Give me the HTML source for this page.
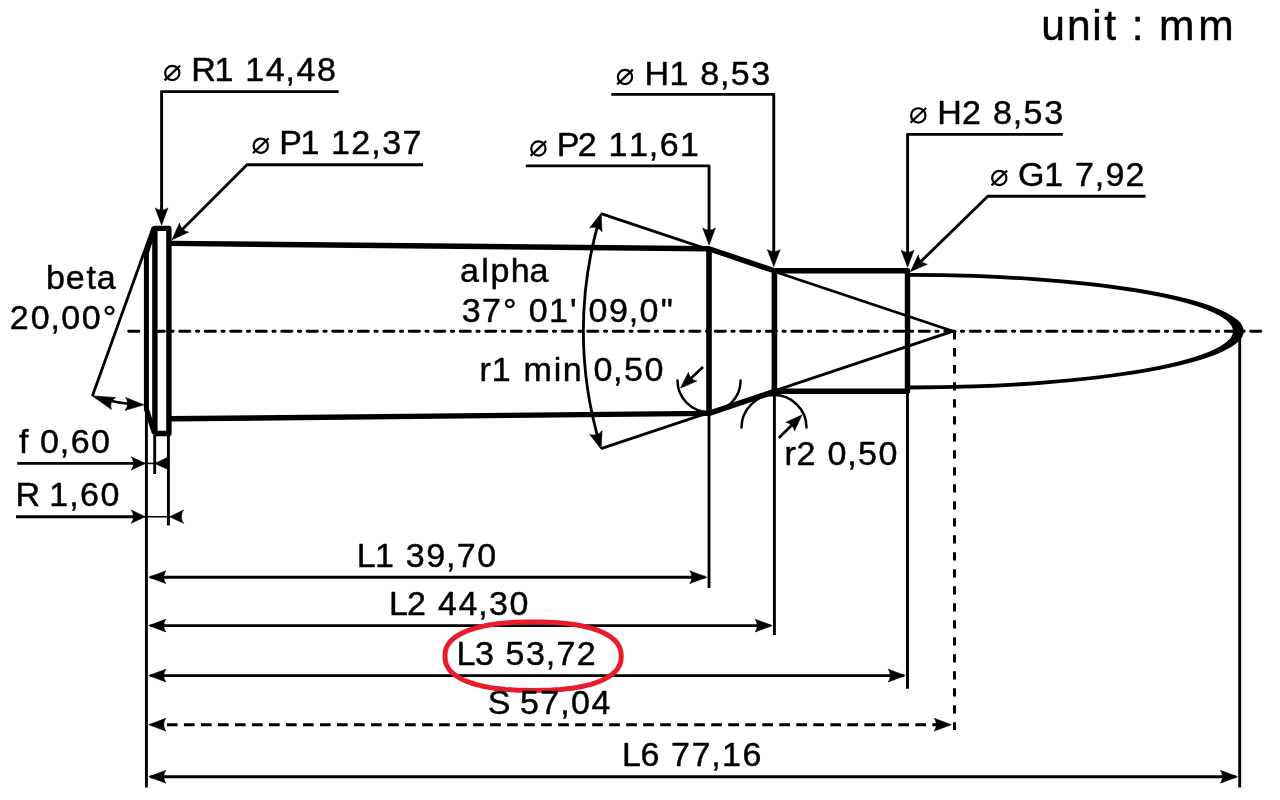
<!DOCTYPE html>
<html lang="en">
<head>
<meta charset="utf-8">
<title>Cartridge dimensions (unit : mm)</title>
<style>
html,body{margin:0;padding:0;background:#fff;}
body{width:1280px;height:800px;overflow:hidden;font-family:"Liberation Sans",sans-serif;}
svg{display:block;will-change:transform;}
</style>
</head>
<body>
<svg width="1280" height="800" viewBox="0 0 1280 800">
<defs><filter id="gray" filterUnits="userSpaceOnUse" x="0" y="0" width="1280" height="800"><feOffset dx="0" dy="0"/></filter></defs>
<rect x="0" y="0" width="1280" height="800" fill="#fff"/>
<g fill="none" stroke="#000" stroke-width="2.9" stroke-linecap="butt">
<line x1="128.7" y1="331.2" x2="1261.5" y2="331.2" stroke-width="2.9" stroke-dasharray="10.2 6.5 2.3 6.5" stroke-linecap="round"/>
<polyline points="601,213.6 953.0,331.2 601,448.7" stroke-linejoin="miter" stroke-width="2.8"/>
<path d="M600.4,216 A397,397 0 0 0 600.4,446.2" stroke-width="2.8"/>
<line x1="153.20" y1="227.00" x2="92.40" y2="396.00" stroke-width="2.8" />
<path d="M97,397.5 A178,178 0 0 0 139,404.5" stroke-width="2.7"/>
<path d="M677.5,380.6 A31.5,31.5 0 0 0 740.6,380.6" stroke-width="2.5" stroke-linecap="round"/>
<path d="M741.5,427.5 A32.5,32.5 0 0 1 806.5,427.5" stroke-width="2.5" stroke-linecap="round"/>
<line x1="703.00" y1="366.90" x2="688.00" y2="381.00" stroke-width="2.7" />
<line x1="778.75" y1="438.00" x2="794.00" y2="423.00" stroke-width="2.7" />
<line x1="146.40" y1="400.00" x2="146.40" y2="787.50" stroke-width="2.9" />
<line x1="154.70" y1="434.00" x2="154.70" y2="474.00" stroke-width="2.9" />
<line x1="168.40" y1="434.00" x2="168.40" y2="525.50" stroke-width="2.9" />
<line x1="709.00" y1="413.00" x2="709.00" y2="588.00" stroke-width="2.9" />
<line x1="774.40" y1="391.00" x2="774.40" y2="635.00" stroke-width="2.9" />
<line x1="907.50" y1="391.00" x2="907.50" y2="688.75" stroke-width="2.9" />
<line x1="1239.70" y1="331.20" x2="1239.70" y2="787.50" stroke-width="2.9" />
<line x1="954.5" y1="331.2" x2="954.5" y2="730" stroke-dasharray="8.3 8.71" stroke-dashoffset="0.1" stroke-width="3"/>
<line x1="150.40" y1="577.20" x2="705.00" y2="577.20" stroke-width="2.9" />
<line x1="150.40" y1="625.60" x2="770.40" y2="625.60" stroke-width="2.9" />
<line x1="150.40" y1="675.60" x2="903.50" y2="675.60" stroke-width="2.9" />
<line x1="150.40" y1="776.75" x2="1235.70" y2="776.75" stroke-width="2.9" />
<line x1="166.9" y1="724.7" x2="948" y2="724.7" stroke-dasharray="10.7 6.31" stroke-dashoffset="0" stroke-width="3"/>
<line x1="17.20" y1="463.40" x2="140.00" y2="463.40" stroke-width="2.9" />
<line x1="140.00" y1="463.40" x2="170.00" y2="463.40" stroke-width="1.6" />
<line x1="16.00" y1="516.70" x2="140.00" y2="516.70" stroke-width="2.9" />
<line x1="140.00" y1="516.70" x2="181.00" y2="516.70" stroke-width="1.6" />
<polyline points="338.7,91.6 161.6,91.6 161.6,215" stroke-linejoin="round"/>
<polyline points="423,164.7 247,164.7 180,231.7" stroke-linejoin="round"/>
<polyline points="525.8,165.9 709.06,165.9 709.06,235" stroke-linejoin="round"/>
<polyline points="611.3,94.4 773.75,94.4 773.75,256" stroke-linejoin="round"/>
<polyline points="1062.8,134.4 907.6,134.4 907.6,257" stroke-linejoin="round"/>
<polyline points="1145.6,196.25 987.8,196.25 918,264.3" stroke-linejoin="round"/>
</g>
<g fill="none" stroke="#000" stroke-width="5.4" stroke-linejoin="round" stroke-linecap="butt">
<polyline points="154.9,433.5 154.9,228.4 168.9,228.4 168.9,433.5 154.9,433.5" stroke-width="5.4"/>
<polyline points="154.1,228.4 146.4,253 146.4,409 154.5,433.5" stroke-width="5.0"/>
<polyline points="170.9,243.4 709.0,248.7 774.4,270.8 907.5,270.8 907.5,391.3 774.4,391.3 709.0,413.4 170.9,418.8"/>
<line x1="709.0" y1="248.7" x2="709.0" y2="413.4" stroke-width="5.6"/>
<line x1="774.4" y1="270.8" x2="774.4" y2="391.3" stroke-width="5.6"/>
</g>
<path fill="#000" fill-rule="evenodd" d="M910.0,273.0 A333.8,58.2 0 0 1 910.0,389.4 L910.0,385.59999999999997 A323.0,54.4 0 0 0 910.0,276.8 Z"/>
<path d="M0,0 L-17.10,-6.40 C-14.30,-2.56 -14.30,2.56 -17.10,6.40 Z" transform="translate(161.60,225.00) rotate(90.00)" fill="#000" stroke="#000" stroke-width="0.6" stroke-linejoin="round"/>
<path d="M0,0 L-17.10,-6.40 C-14.30,-2.56 -14.30,2.56 -17.10,6.40 Z" transform="translate(172.00,239.70) rotate(135.00)" fill="#000" stroke="#000" stroke-width="0.6" stroke-linejoin="round"/>
<path d="M0,0 L-17.10,-6.40 C-14.30,-2.56 -14.30,2.56 -17.10,6.40 Z" transform="translate(709.06,245.00) rotate(90.00)" fill="#000" stroke="#000" stroke-width="0.6" stroke-linejoin="round"/>
<path d="M0,0 L-17.10,-6.40 C-14.30,-2.56 -14.30,2.56 -17.10,6.40 Z" transform="translate(773.75,266.60) rotate(90.00)" fill="#000" stroke="#000" stroke-width="0.6" stroke-linejoin="round"/>
<path d="M0,0 L-17.10,-6.40 C-14.30,-2.56 -14.30,2.56 -17.10,6.40 Z" transform="translate(907.60,267.30) rotate(90.00)" fill="#000" stroke="#000" stroke-width="0.6" stroke-linejoin="round"/>
<path d="M0,0 L-17.10,-6.40 C-14.30,-2.56 -14.30,2.56 -17.10,6.40 Z" transform="translate(910.50,271.60) rotate(135.70)" fill="#000" stroke="#000" stroke-width="0.6" stroke-linejoin="round"/>
<path d="M0,0 L-17.10,-6.40 C-14.30,-2.56 -14.30,2.56 -17.10,6.40 Z" transform="translate(148.80,577.20) rotate(180.00)" fill="#000" stroke="#000" stroke-width="0.6" stroke-linejoin="round"/>
<path d="M0,0 L-17.10,-6.40 C-14.30,-2.56 -14.30,2.56 -17.10,6.40 Z" transform="translate(706.80,577.20) rotate(0.00)" fill="#000" stroke="#000" stroke-width="0.6" stroke-linejoin="round"/>
<path d="M0,0 L-17.10,-6.40 C-14.30,-2.56 -14.30,2.56 -17.10,6.40 Z" transform="translate(148.80,625.60) rotate(180.00)" fill="#000" stroke="#000" stroke-width="0.6" stroke-linejoin="round"/>
<path d="M0,0 L-17.10,-6.40 C-14.30,-2.56 -14.30,2.56 -17.10,6.40 Z" transform="translate(772.20,625.60) rotate(0.00)" fill="#000" stroke="#000" stroke-width="0.6" stroke-linejoin="round"/>
<path d="M0,0 L-17.10,-6.40 C-14.30,-2.56 -14.30,2.56 -17.10,6.40 Z" transform="translate(148.80,675.60) rotate(180.00)" fill="#000" stroke="#000" stroke-width="0.6" stroke-linejoin="round"/>
<path d="M0,0 L-17.10,-6.40 C-14.30,-2.56 -14.30,2.56 -17.10,6.40 Z" transform="translate(905.30,675.60) rotate(0.00)" fill="#000" stroke="#000" stroke-width="0.6" stroke-linejoin="round"/>
<path d="M0,0 L-17.10,-6.40 C-14.30,-2.56 -14.30,2.56 -17.10,6.40 Z" transform="translate(148.80,776.75) rotate(180.00)" fill="#000" stroke="#000" stroke-width="0.6" stroke-linejoin="round"/>
<path d="M0,0 L-17.10,-6.40 C-14.30,-2.56 -14.30,2.56 -17.10,6.40 Z" transform="translate(1237.50,776.75) rotate(0.00)" fill="#000" stroke="#000" stroke-width="0.6" stroke-linejoin="round"/>
<path d="M0,0 L-17.10,-6.40 C-14.30,-2.56 -14.30,2.56 -17.10,6.40 Z" transform="translate(148.80,724.70) rotate(180.00)" fill="#000" stroke="#000" stroke-width="0.6" stroke-linejoin="round"/>
<path d="M0,0 L-17.10,-6.40 C-14.30,-2.56 -14.30,2.56 -17.10,6.40 Z" transform="translate(951.30,724.70) rotate(0.00)" fill="#000" stroke="#000" stroke-width="0.6" stroke-linejoin="round"/>
<path d="M0,0 L-14.00,-6.65 C-11.00,-2.66 -11.00,2.66 -14.00,6.65 Z" transform="translate(145.20,463.40) rotate(0.00)" fill="#000" stroke="#000" stroke-width="0.6" stroke-linejoin="round"/>
<path d="M0,0 L-14.00,-6.65 C-11.00,-2.66 -11.00,2.66 -14.00,6.65 Z" transform="translate(154.90,463.40) rotate(180.00)" fill="#000" stroke="#000" stroke-width="0.6" stroke-linejoin="round"/>
<path d="M0,0 L-14.00,-6.65 C-11.00,-2.66 -11.00,2.66 -14.00,6.65 Z" transform="translate(145.20,516.70) rotate(0.00)" fill="#000" stroke="#000" stroke-width="0.6" stroke-linejoin="round"/>
<path d="M0,0 L-14.00,-6.65 C-11.00,-2.66 -11.00,2.66 -14.00,6.65 Z" transform="translate(169.60,516.70) rotate(180.00)" fill="#000" stroke="#000" stroke-width="0.6" stroke-linejoin="round"/>
<path d="M0,0 L-17.10,-6.40 C-14.30,-2.56 -14.30,2.56 -17.10,6.40 Z" transform="translate(601.00,213.40) rotate(-72.70)" fill="#000" stroke="#000" stroke-width="0.6" stroke-linejoin="round"/>
<path d="M0,0 L-17.10,-6.40 C-14.30,-2.56 -14.30,2.56 -17.10,6.40 Z" transform="translate(601.00,448.90) rotate(72.70)" fill="#000" stroke="#000" stroke-width="0.6" stroke-linejoin="round"/>
<path d="M0,0 L-22.50,-6.25 C-19.30,-2.50 -19.30,2.50 -22.50,6.25 Z" transform="translate(92.30,395.90) rotate(199.70)" fill="#000" stroke="#000" stroke-width="0.6" stroke-linejoin="round"/>
<path d="M0,0 L-18.50,-6.50 C-15.50,-2.60 -15.50,2.60 -18.50,6.50 Z" transform="translate(143.80,404.80) rotate(2.80)" fill="#000" stroke="#000" stroke-width="0.6" stroke-linejoin="round"/>
<path d="M0,0 L-16.50,-6.10 C-13.90,-2.44 -13.90,2.44 -16.50,6.10 Z" transform="translate(680.60,388.00) rotate(136.70)" fill="#000" stroke="#000" stroke-width="0.6" stroke-linejoin="round"/>
<path d="M0,0 L-16.50,-6.10 C-13.90,-2.44 -13.90,2.44 -16.50,6.10 Z" transform="translate(801.90,415.00) rotate(-45.00)" fill="#000" stroke="#000" stroke-width="0.6" stroke-linejoin="round"/>
<path d="M621.2,656.2 L621.0,659.6 L620.6,662.2 L619.8,664.7 L618.6,667.0 L617.2,669.2 L615.5,671.3 L613.4,673.3 L611.0,675.2 L608.4,676.9 L605.4,678.6 L602.2,680.2 L598.7,681.7 L594.9,683.0 L590.8,684.3 L586.5,685.4 L581.9,686.5 L577.1,687.4 L572.0,688.2 L566.6,688.8 L561.0,689.4 L555.0,689.8 L548.7,690.2 L541.7,690.3 L533.1,690.4 L524.5,690.3 L517.5,690.2 L511.2,689.8 L505.2,689.4 L499.6,688.8 L494.2,688.2 L489.1,687.4 L484.3,686.5 L479.7,685.4 L475.4,684.3 L471.3,683.0 L467.5,681.7 L464.0,680.2 L460.8,678.6 L457.8,676.9 L455.2,675.2 L452.8,673.3 L450.7,671.3 L449.0,669.2 L447.6,667.0 L446.4,664.7 L445.6,662.2 L445.2,659.6 L445.0,656.2 L445.2,652.8 L445.6,650.2 L446.4,647.7 L447.6,645.4 L449.0,643.2 L450.7,641.1 L452.8,639.1 L455.2,637.2 L457.8,635.5 L460.8,633.8 L464.0,632.2 L467.5,630.7 L471.3,629.4 L475.4,628.1 L479.7,627.0 L484.3,625.9 L489.1,625.0 L494.2,624.2 L499.6,623.6 L505.2,623.0 L511.2,622.6 L517.5,622.2 L524.5,622.1 L533.1,622.0 L541.7,622.1 L548.7,622.2 L555.0,622.6 L561.0,623.0 L566.6,623.6 L572.0,624.2 L577.1,625.0 L581.9,625.9 L586.5,627.0 L590.8,628.1 L594.9,629.4 L598.7,630.7 L602.2,632.2 L605.4,633.8 L608.4,635.5 L611.0,637.2 L613.4,639.1 L615.5,641.1 L617.2,643.2 L618.6,645.4 L619.8,647.7 L620.6,650.2 L621.0,652.8Z" fill="none" stroke="#e81c2a" stroke-width="5.0" stroke-linejoin="round"/>
<circle cx="172.30" cy="73.00" r="7.15" fill="none" stroke="#000" stroke-width="2.2"/><line x1="164.50" y1="80.40" x2="180.10" y2="65.60" stroke="#000" stroke-width="2.2" stroke-linecap="butt"/>
<circle cx="260.80" cy="145.70" r="7.15" fill="none" stroke="#000" stroke-width="2.2"/><line x1="253.00" y1="153.10" x2="268.60" y2="138.30" stroke="#000" stroke-width="2.2" stroke-linecap="butt"/>
<circle cx="538.40" cy="148.50" r="7.15" fill="none" stroke="#000" stroke-width="2.2"/><line x1="530.60" y1="155.90" x2="546.20" y2="141.10" stroke="#000" stroke-width="2.2" stroke-linecap="butt"/>
<circle cx="625.00" cy="77.00" r="7.15" fill="none" stroke="#000" stroke-width="2.2"/><line x1="617.20" y1="84.40" x2="632.80" y2="69.60" stroke="#000" stroke-width="2.2" stroke-linecap="butt"/>
<circle cx="918.30" cy="115.40" r="7.15" fill="none" stroke="#000" stroke-width="2.2"/><line x1="910.50" y1="122.80" x2="926.10" y2="108.00" stroke="#000" stroke-width="2.2" stroke-linecap="butt"/>
<circle cx="999.30" cy="178.00" r="7.15" fill="none" stroke="#000" stroke-width="2.2"/><line x1="991.50" y1="185.40" x2="1007.10" y2="170.60" stroke="#000" stroke-width="2.2" stroke-linecap="butt"/>
<g fill="#000" stroke="#000" stroke-width="0.45" stroke-linejoin="round" filter="url(#gray)" font-family="'Liberation Sans', sans-serif">
<text x="1041.29 1066.88 1092.19 1104.31 1118.19 1131.79 1144.44 1159.11 1198.18" y="39.70" font-size="42.53" xml:space="preserve">unit : mm</text>
<text x="191.13 214.62 234.48 245.25 265.85 285.57 296.47 316.90" y="80.60" font-size="34.01" xml:space="preserve">R1 14,48</text>
<text x="279.31 300.38 320.23 331.00 351.18 371.33 382.27 402.59" y="154.00" font-size="34.01" xml:space="preserve">P1 12,37</text>
<text x="556.81 577.63 597.73 608.50 628.93 648.83 659.73 679.98" y="155.60" font-size="34.01" xml:space="preserve">P2 11,61</text>
<text x="644.53 669.46 689.31 700.26 719.98 730.76 751.35" y="84.60" font-size="34.01" xml:space="preserve">H1 8,53</text>
<text x="937.33 962.01 982.11 993.06 1012.78 1023.56 1044.15" y="123.60" font-size="34.01" xml:space="preserve">H2 8,53</text>
<text x="1017.91 1044.14 1063.99 1074.88 1094.67 1105.47 1125.57" y="186.00" font-size="34.01" xml:space="preserve">G1 7,92</text>
<text x="45.90 65.83 86.59 96.85" y="288.50" font-size="34.05" xml:space="preserve">beta</text>
<text x="9.87 30.72 50.44 61.34 81.77 102.68" y="329.00" font-size="34.01" xml:space="preserve">20,00°</text>
<text x="460.12 481.32 490.48 510.66 529.43" y="281.90" font-size="34.05" xml:space="preserve">alpha</text>
<text x="461.65 481.96 502.93 517.75 528.70 548.95 569.97 577.62 588.57 608.90 628.72 639.62 660.65" y="321.70" font-size="34.01" xml:space="preserve">37° 01' 09,0&quot;</text>
<text x="479.62 491.84 511.71 523.45 553.87 562.87 582.44 593.38 613.11 623.88 644.43" y="381.30" font-size="34.05" xml:space="preserve">r1 min 0,50</text>
<text x="784.52 796.50 816.61 827.55 847.27 858.05 878.59" y="465.20" font-size="34.05" xml:space="preserve">r2 0,50</text>
<text x="19.10 29.06 40.01 59.74 70.64 91.06" y="453.00" font-size="34.01" xml:space="preserve">f 0,60</text>
<text x="15.53 38.45 49.23 69.13 80.03 100.45" y="505.70" font-size="34.01" xml:space="preserve">R 1,60</text>
<text x="356.69 375.00 394.86 405.85 426.13 445.95 456.79 477.28" y="566.60" font-size="34.01" xml:space="preserve">L1 39,70</text>
<text x="388.89 406.96 427.06 438.00 458.43 478.15 489.10 509.48" y="614.70" font-size="34.01" xml:space="preserve">L2 44,30</text>
<text x="456.49 475.02 494.66 505.48 526.07 545.75 556.59 576.65" y="664.70" font-size="34.01" xml:space="preserve">L3 53,72</text>
<text x="487.70 509.06 519.89 540.37 560.16 571.06 591.48" y="714.00" font-size="34.01" xml:space="preserve">S 57,04</text>
<text x="621.99 640.48 660.16 671.04 691.46 711.25 721.98 742.58" y="766.30" font-size="34.01" xml:space="preserve">L6 77,16</text>
</g>
</svg>
</body>
</html>
